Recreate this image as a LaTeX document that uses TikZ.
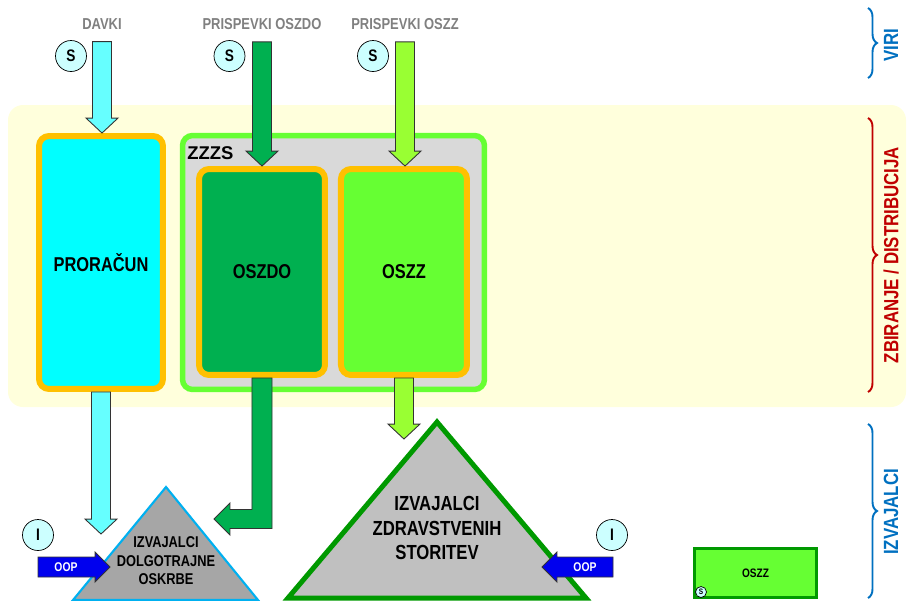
\documentclass[tikz,border=0pt]{standalone}
\usepackage{fontspec}
\setmainfont[FakeStretch=0.82]{Liberation Sans}
\newfontfamily\plainsans{Liberation Sans}
\usetikzlibrary{positioning,calc,decorations.pathreplacing}

\definecolor{band}{HTML}{FFFFDC}
\definecolor{tax}{HTML}{66FFFF}
\definecolor{budget}{HTML}{00FFFF}
\definecolor{ltcgreen}{HTML}{00B050}
\definecolor{hcgreen}{HTML}{66FF33}
\definecolor{hcarrow}{HTML}{99FF33}
\definecolor{frameorange}{HTML}{FFC000}
\definecolor{zzzsgray}{HTML}{D9D9D9}
\definecolor{srcgray}{HTML}{808080}
\definecolor{coin}{HTML}{CCFFFF}
\definecolor{ltcgray}{HTML}{A6A6A6}
\definecolor{ltcblue}{HTML}{00B0F0}
\definecolor{hcpgray}{HTML}{C0C0C0}
\definecolor{hcpgreen}{HTML}{009900}
\definecolor{oopblue}{HTML}{0000EE}
\definecolor{bracered}{HTML}{C00000}
\definecolor{braceblue}{HTML}{0070C0}

% fat arrows: start point, tip
\newcommand{\pipedown}[3]{%
  \draw[flow, fill=#1] let \p1=(#2), \p2=(#3), \p3=($(#3)!8.5pt!(#2)$) in
    (\x1-5.4pt,\y1) -- (\x1-5.4pt,\y3) -- (\x1-9.1pt,\y3) -- (\x1,\y2)
    -- (\x1+9.1pt,\y3) -- (\x1+5.4pt,\y3) -- (\x1+5.4pt,\y1) -- cycle;}
\newcommand{\pipeflat}[3]{%
  \draw[flow, fill=#1] let \p1=(#2), \p2=(#3), \p3=($(#3)!8.5pt!(#2)$) in
    (\x1,\y1+5.7pt) -- (\x3,\y1+5.7pt) -- (\x3,\y1+8.5pt) -- (\x2,\y1)
    -- (\x3,\y1-8.5pt) -- (\x3,\y1-5.7pt) -- (\x1,\y1-5.7pt) -- cycle;}

\begin{document}
\begin{tikzpicture}[x=0.02cm, y=-0.02cm,
    src/.style={text=srcgray, font=\bfseries\fontsize{9}{10}\selectfont},
    coin/.style={circle, draw, fill=coin, minimum size=0.62cm, inner sep=0pt,
                 font=\bfseries\fontsize{9.5}{10}\selectfont},
    fund/.style={draw=frameorange, line width=0.12cm, rounded corners=0.2cm,
                 minimum width=2.52cm, minimum height=4.12cm,
                 font=\bfseries\fontsize{11.4}{12}\selectfont},
    provider/.style={align=center, font=\bfseries\fontsize{11.6}{14}\selectfont},
    oop/.style={text=white, font=\bfseries\fontsize{7.2}{8}\selectfont},
    flow/.style={draw=black!80, line width=0.5pt},
    part/.style={decorate, decoration={brace, amplitude=0.18cm}, line width=1.1pt},
    partlabel/.style={rotate=90, font=\bfseries\fontsize{11.7}{13}\selectfont}]
    \useasboundingbox (0,0) rectangle (908,600);

    % collection / distribution band
    \fill[band, rounded corners=0.3cm] (8,105) rectangle (906,407);

    \node[fund, fill=budget, minimum width=2.48cm, minimum height=5.06cm] (budget) at (101,262.5) {PRORAČUN};
    \node[draw=hcgreen, fill=zzzsgray, line width=0.11cm, rounded corners=0.2cm,
          minimum width=6.04cm, minimum height=5.08cm] (zzzs) at (333.5,262.5) {};
    \node[anchor=west, inner sep=0pt, font=\plainsans\bfseries\fontsize{10.5}{12}\selectfont] (zzzslabel) at (187,153) {ZZZS};
    \node[fund, fill=ltcgreen] (oszdo) at (262,272) {OSZDO};
    \node[fund, fill=hcgreen, right=0.2cm of oszdo] (oszz) {OSZZ};

    % sources
    \node[src] (davki) at (102,24) {DAVKI};
    \node[src] (oszdoin) at (262,24) {PRISPEVKI OSZDO};
    \node[src] (oszzin) at (405,24) {PRISPEVKI OSZZ};
    \node[coin] (s1) at (71,56) {S};
    \node[coin] (s2) at (229.5,56) {S};
    \node[coin] (s3) at (373,56) {S};

    \pipedown{tax}{[yshift=-0.12cm]davki.south}{budget.north}
    \pipedown{ltcgreen}{[yshift=-0.12cm]oszdoin.south}{oszdo.north}
    \pipedown{hcarrow}{[yshift=-0.12cm]oszzin.south}{oszz.north}

    % providers
    \draw[fill=ltcgray, draw=ltcblue, line width=1.2pt] (166,487) -- (258,600) -- (73,600) -- cycle;
    \node[provider, font=\bfseries\fontsize{8.9}{10.5}\selectfont] (ltc) at (166,561) {IZVAJALCI\\DOLGOTRAJNE\\OSKRBE};
    \draw[fill=hcpgray, draw=hcpgreen, line width=0.1cm] (437,422) -- (586,598) -- (288,598) -- cycle;
    \node[provider] (hcp) at (437,528) {IZVAJALCI\\ZDRAVSTVENIH\\STORITEV};

    \coordinate (ltc in) at (100.5,534);
    \coordinate (ltc side) at (214,519);
    \coordinate (hcp in) at (405,439);
    \pipedown{tax}{budget.south}{ltc in}
    \pipedown{hcarrow}{oszz.south}{hcp in}
    \draw[flow, fill=ltcgreen] let \p1=(oszdo.south), \p2=(ltc side) in
        (\x1-5.7pt,\y1) -- (\x1-5.7pt,\y2+5.4pt) -- (\x2+9.1pt,\y2+5.4pt)
        -- (\x2+9.1pt,\y2+9.1pt) -- (\x2,\y2) -- (\x2+9.1pt,\y2-9.1pt)
        -- (\x2+9.1pt,\y2-5.4pt) -- (\x1+5.7pt,\y2-5.4pt) -- (\x1+5.7pt,\y1) -- cycle;

    % out-of-pocket payments
    \node[coin] (i1) at (38,535) {I};
    \node[coin] (i2) at (612,535) {I};
    \coordinate (oop1) at (38,567);
    \coordinate (ltc oop) at (110,567);
    \coordinate (oop2) at (613,567);
    \coordinate (hcp oop) at (542,567);
    \pipeflat{oopblue}{oop1}{ltc oop}
    \pipeflat{oopblue}{oop2}{hcp oop}
    \node[oop] at (66,567) {OOP};
    \node[oop] at (585,567) {OOP};

    \node[draw=hcpgreen, line width=0.06cm, fill=hcgreen, minimum width=2.44cm, minimum height=0.98cm,
          font=\bfseries\fontsize{7}{8}\selectfont] (legend) at (755.5,573) {OSZZ};
    \node[coin, minimum size=0.22cm, font=\bfseries\fontsize{4.5}{5}\selectfont] (s4) at (701,592) {S};

    % levels
    \draw[part, braceblue] (868,8) -- (868,78);
    \node[partlabel, text=braceblue] (viri) at (891,45) {VIRI};
    \draw[part, bracered] (868,118) -- (868,392);
    \node[partlabel, text=bracered] (zbiranje) at (891,255) {ZBIRANJE / DISTRIBUCIJA};
    \draw[part, braceblue] (868,424) -- (868,598);
    \node[partlabel, text=braceblue] (izvajalci) at (891,512) {IZVAJALCI};
\end{tikzpicture}
\end{document}
